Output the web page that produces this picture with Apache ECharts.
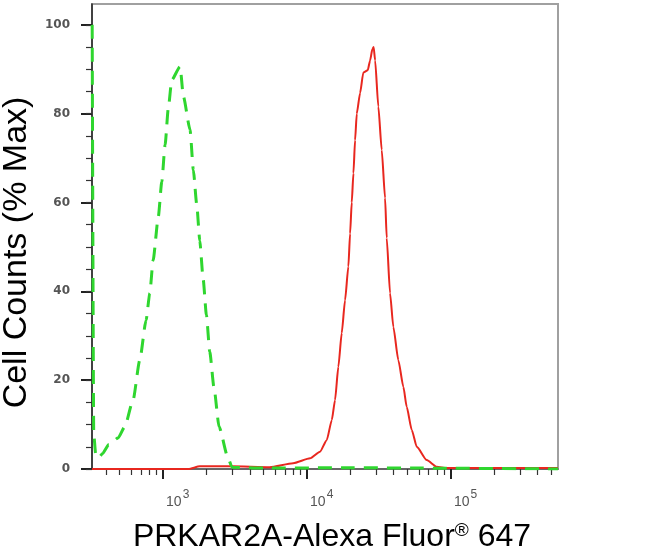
<!DOCTYPE html>
<html>
<head>
<meta charset="utf-8">
<script src="https://cdn.jsdelivr.net/npm/echarts@6/dist/echarts.min.js"></script>
<style>
html, body { margin: 0; padding: 0; background: #fff; }
#chart { width: 650px; height: 558px; }
</style>
</head>
<body>
<div id="chart"></div>
<script>
// isotype control (green, dashed) - intensity and % of max
const greenIntensity = [322, 330, 340, 358, 380, 420, 487, 542, 619, 689, 762, 809, 853, 927, 980, 1033, 1088, 1149, 1313, 1384, 1540, 1623, 1714, 1799, 1896, 2000, 2110, 2260, 2449, 2825, 3013, 5000, 20000, 60000, 553000];
const greenCounts = [100, 8, 3.5, 2.5, 3.5, 5.5, 7, 9.5, 15.5, 24.5, 33.5, 39.6, 47, 56.8, 64.7, 73, 81.3, 87.6, 90.6, 83.9, 76.4, 67.3, 59.5, 51.4, 43, 34.7, 26.4, 18.2, 9.5, 2.5, 0.4, 0.2, 0.3, 0.2, 0];

// PRKAR2A stained cells (red)
const redIntensity = [321, 1500, 1800, 3000, 5500, 8000, 10500, 12300, 13700, 14850, 15640, 16490, 17410, 18360, 19360, 19900, 20430, 20990, 21550, 22140, 23340, 24600, 26400, 27400, 28400, 29000, 29700, 31260, 33010, 34820, 35750, 37700, 39740, 43050, 46650, 49210, 53330, 57800, 67800, 79530, 93350, 553000];
const redCounts = [0, 0, 0.6, 0.6, 0.4, 1.3, 2.4, 3.9, 6.5, 11, 15.5, 23, 30.6, 38, 45.6, 53, 60, 66.6, 74, 80, 84.6, 89.3, 89.8, 92, 94.5, 95, 92, 81.6, 71.8, 61, 52, 39.6, 32, 24.5, 18.5, 14, 8.8, 5, 2, 0.5, 0.2, 0.2];

// axes
const xExtent = [321, 553000];
const xDecades = [3, 4, 5];
const xMinorMultipliers = [2, 3, 4, 5, 6, 7, 8, 9];
const yMajorTicks = [0, 20, 40, 60, 80, 100];
const yMinorTicks = [0, 5, 10, 15, 20, 25, 30, 35, 40, 45, 50, 55, 60, 65, 70, 75, 80, 85, 90, 95, 100];
const yMax = 104.7;

const lo = Math.log10(xExtent[0]);
const hi = Math.log10(xExtent[1]);
let xMinorTicks = [];
[2, 3, 4, 5].forEach(d => {
  xMinorMultipliers.forEach(m => {
    const v = Math.log10(m * Math.pow(10, d));
    if (v > lo && v < hi) xMinorTicks.push(v);
  });
});

const toPoints = (xs, ys) => xs.map((x, i) => [Math.log10(x), ys[i]]);

const chart = echarts.init(document.getElementById('chart'), null, { renderer: 'canvas' });

const font = 'Liberation Sans, Arial, sans-serif';
const tickFont = 'DejaVu Sans, sans-serif';

const option = {
  animation: false,
  backgroundColor: '#fff',
  grid: {
    left: 92, right: 92, top: 4, bottom: 89,
    show: true, borderColor: '#a0a0a0', borderWidth: 2,
    containLabel: false,
    outerBoundsMode: 'none'
  },
  xAxis: [
    {
      type: 'value', min: lo, max: hi, position: 'bottom',
      axisLine: { show: true, lineStyle: { color: '#555', width: 1.5 } },
      axisTick: { show: true, inside: false, length: 10, customValues: xDecades, lineStyle: { color: '#222', width: 2 } },
      axisLabel: {
        customValues: xDecades, margin: 20, align: 'left',
        formatter: v => '{b|10}{s|' + Math.round(v) + '}',
        rich: {
          b: { fontFamily: font, fontSize: 14, color: '#555', padding: [0, 0, 0, 3] },
          s: { fontFamily: font, fontSize: 12, color: '#555', padding: [0, 0, 14, 1] }
        }
      },
      splitLine: { show: false },
      name: 'PRKAR2A-Alexa Fluor{sup|®} 647',
      nameLocation: 'middle', nameGap: 52,
      nameTextStyle: {
        fontFamily: font, fontSize: 32, color: '#000', padding: [0, 0, 0, 14],
        rich: { sup: { fontFamily: font, fontSize: 19, color: '#000', padding: [0, 0, 14, 0] } }
      }
    },
    {
      type: 'value', min: lo, max: hi, position: 'bottom',
      axisLine: { show: false },
      axisTick: { show: true, inside: false, length: 6, customValues: xMinorTicks, lineStyle: { color: '#333', width: 1.2 } },
      axisLabel: { show: false },
      splitLine: { show: false }
    }
  ],
  yAxis: [
    {
      type: 'value', min: 0, max: yMax, position: 'left',
      axisLine: { show: true, lineStyle: { color: '#222', width: 1.5 } },
      axisTick: { show: true, inside: false, length: 11, customValues: yMajorTicks, lineStyle: { color: '#222', width: 2 } },
      axisLabel: { customValues: yMajorTicks, margin: 22, fontFamily: tickFont, fontSize: 12, fontWeight: 'bold', color: '#555' },
      splitLine: { show: false },
      name: 'Cell Counts (% Max)',
      nameLocation: 'middle', nameGap: 52,
      nameTextStyle: { fontFamily: font, fontSize: 34, color: '#000', padding: [0, 32, 0, 0] }
    },
    {
      type: 'value', min: 0, max: yMax, position: 'left',
      axisLine: { show: false },
      axisTick: { show: true, inside: false, length: 6, customValues: yMinorTicks, lineStyle: { color: '#333', width: 1.2 } },
      axisLabel: { show: false },
      splitLine: { show: false }
    }
  ],
  series: [
    {
      name: 'PRKAR2A', type: 'line', xAxisIndex: 0, yAxisIndex: 0,
      data: toPoints(redIntensity, redCounts),
      symbol: 'none', smooth: 0.2, smoothMonotone: 'x',
      lineStyle: { color: '#e8271f', width: 2 },
      z: 3
    },
    {
      name: 'Isotype', type: 'line', xAxisIndex: 0, yAxisIndex: 0,
      data: toPoints(greenIntensity, greenCounts),
      symbol: 'none', smooth: 0.2, smoothMonotone: 'x',
      lineStyle: { color: '#2fd62f', width: 3, type: [14, 9], cap: 'butt' },
      z: 4
    }
  ]
};

chart.setOption(option);
</script>
</body>
</html>
